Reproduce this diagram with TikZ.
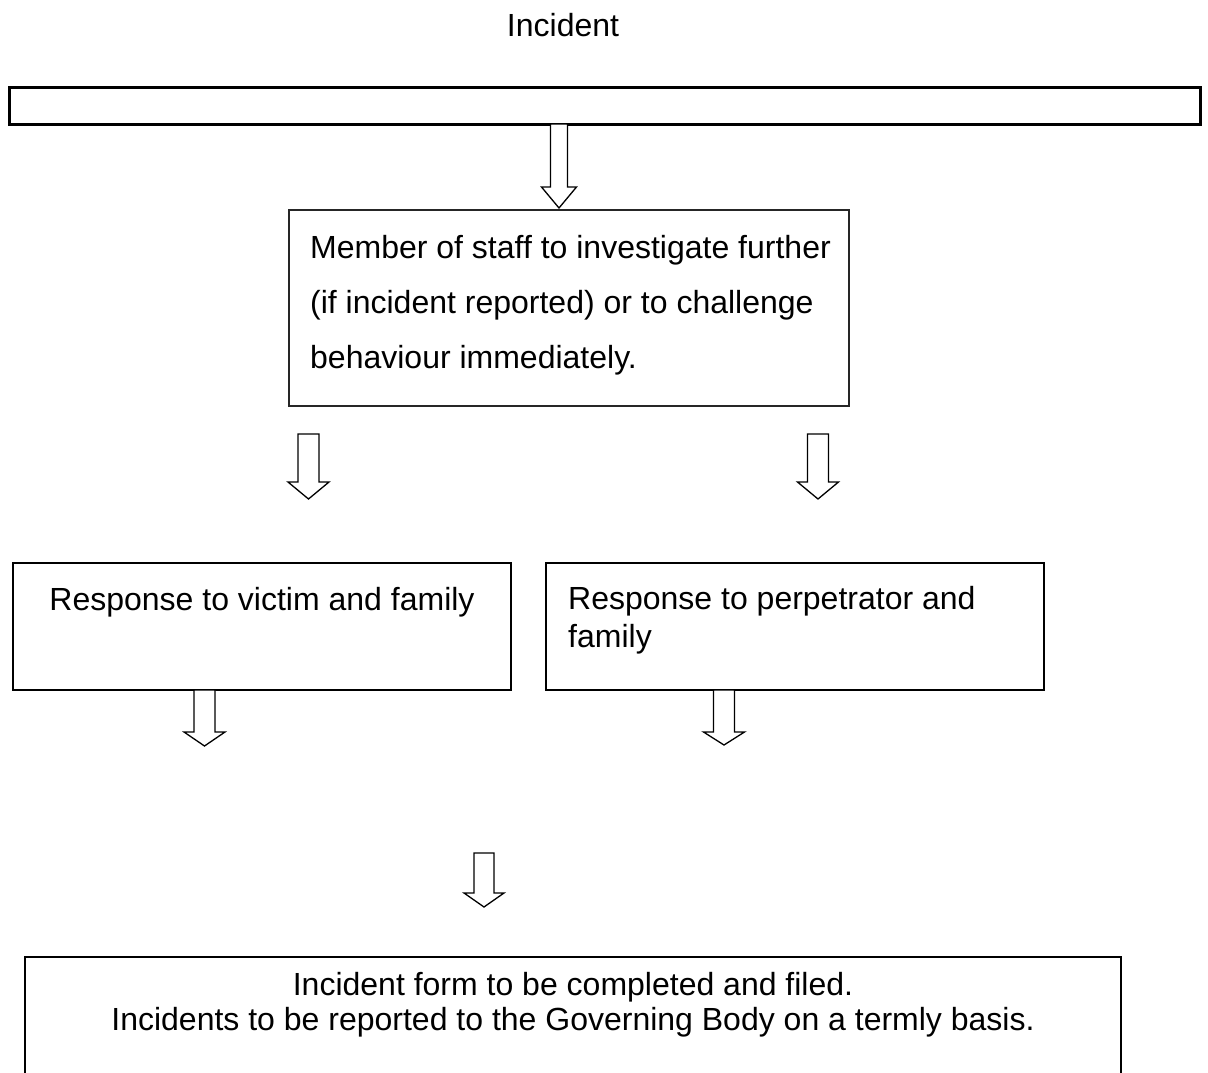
\documentclass[tikz,border=0pt]{standalone}
\usepackage{fontspec}
\setmainfont{Liberation Sans}
\newcommand\blkarrow[6]{% cx, top, head start, tip, shaft half width, head half width
  \draw[arrowline] ({#1-#5},#2) -- ({#1-#5},#3) -- ({#1-#6},#3) -- (#1,#4)
    -- ({#1+#6},#3) -- ({#1+#5},#3) -- ({#1+#5},#2) -- cycle;}
\begin{document}
\begin{tikzpicture}[x=1pt,y=-1pt,
  txt/.style={font=\fontsize{32}{38}\selectfont, inner sep=0pt, anchor=base},
  boxthick/.style={draw, line width=3pt, inner sep=0pt, outer sep=0pt, anchor=north west},
  boxmid/.style={draw, line width=2pt, inner sep=0pt, outer sep=0pt, anchor=north west},
  boxthin/.style={draw=black!85, line width=1.2pt, inner sep=0pt, outer sep=0pt, anchor=north west},
  arrowline/.style={draw, fill=white, line width=1.3pt, line join=miter}]
\useasboundingbox (0,0) rectangle (1208,1073);
% title
\node[txt] (title) at (563,37) {Incident};
% top box
\node[boxthick, minimum width=1191pt, minimum height=36pt] (topbox) at (9,88) {};
% middle box
\node[boxthin, minimum width=560pt, minimum height=196pt] (midbox) at (289,210) {};
\node[txt, anchor=base west] (m1) at (310,258) {Member of staff to investigate further};
\node[txt, anchor=base west] (m2) at (310,313) {(if incident reported) or to challenge};
\node[txt, anchor=base west] (m3) at (310,368) {behaviour immediately.};
% side boxes
\node[boxmid, minimum width=498pt, minimum height=127pt] (leftbox) at (13,563) {};
\node[txt] (l1) at (262,610) {Response to victim and family};
\node[boxmid, minimum width=498pt, minimum height=127pt] (rightbox) at (546,563) {};
\node[txt, anchor=base west] (r1) at (568,609) {Response to perpetrator and};
\node[txt, anchor=base west] (r2) at (568,647) {family};
% bottom open box
\coordinate (bl) at (25,1080);
\coordinate (br) at (1121,1080);
\draw[line width=2pt] (bl) -- (25,957) -- (1121,957) -- (br);
\node[txt] (b1) at (573,995) {Incident form to be completed and filed.};
\node[txt] (b2) at (573,1030) {Incidents to be reported to the Governing Body on a termly basis.};
% block arrows
\blkarrow{559}{124}{187}{208}{8.5}{17.5}
\blkarrow{308.5}{434}{482}{499}{10.5}{20.5}
\blkarrow{818}{434}{482}{499}{10.5}{20.5}
\blkarrow{204.5}{690}{732}{746}{10.5}{20.5}
\blkarrow{724}{690}{732}{745}{10.5}{20.5}
\blkarrow{484}{853}{893}{907}{10}{20}
\end{tikzpicture}
\end{document}
